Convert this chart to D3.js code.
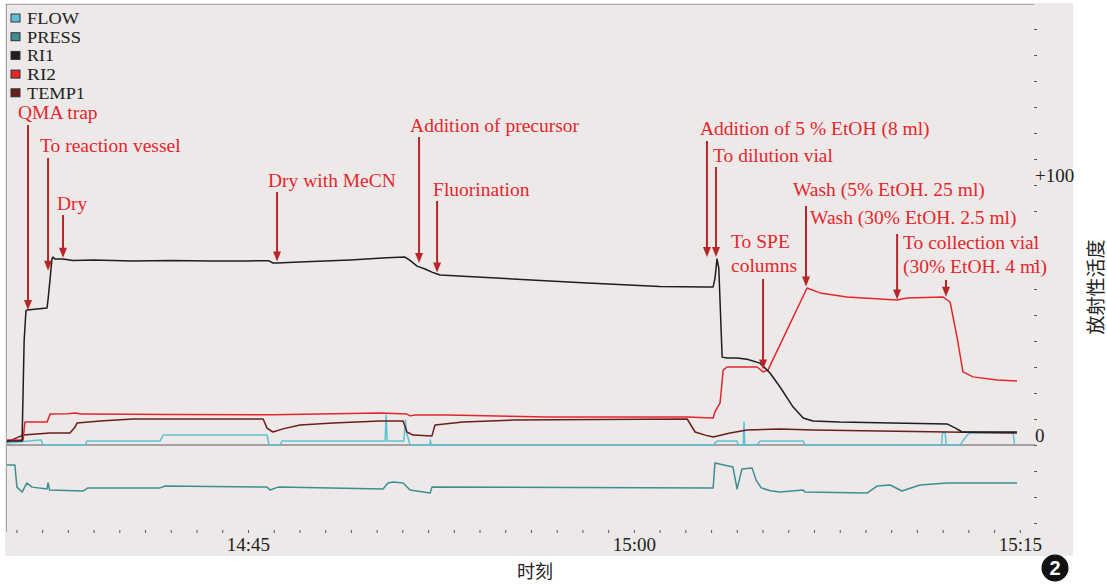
<!DOCTYPE html>
<html>
<head>
<meta charset="utf-8">
<script src="https://cdn.jsdelivr.net/npm/d3@7"></script>
<style>
body { margin: 0; background: #fff; }
text { font-family: 'Liberation Serif', 'Times New Roman', serif; }
.cjk { font-family: 'Noto Sans CJK SC', sans-serif; }
</style>
</head>
<body>
<svg id="chart" width="1107" height="585"></svg>
<script>
'use strict';
//Series data: [minutes after 14:30, value].
const flowData = [[5.63,0.8],[6.92,1.9],[6.96,1.9],[7.03,0],[8.67,0],[8.74,1.5],[11.58,1.5],[11.70,3.8],[15.74,3.8],[15.82,0],[16.25,0],[16.32,1.5],
	[20.33,1.5],[20.37,11.5],[20.41,1.5],[21.06,1.5],[21.12,9.6],[21.16,5],[21.30,0],[22.06,0],[22.09,1.9],[22.12,0],[33.08,0],[33.23,1.5],
	[34.01,1.5],[34.05,0],[34.25,0],[34.28,8.8],[34.31,0],[34.79,0],[34.90,1.5],[36.58,1.5],[36.65,0],[41.96,0],[41.99,4.6],[42.10,4.6],
	[42.14,0],[42.68,0],[42.95,3.8],[43.07,4.6],[44.74,4.6],[44.80,0]];
const pressData = [[5.63,-7.7],[5.94,-7.7],[6.02,-16.2],[6.22,-18.1],[6.41,-14.6],[6.61,-16.2],[7.19,-16.9],[7.23,-14.6],[7.29,-17.3],[8.59,-17.7],
	[8.78,-16.5],[11.58,-16.5],[11.78,-15.8],[15.74,-16.2],[15.86,-17.3],[16.17,-16.2],[20.25,-16.9],[20.44,-14.6],[20.64,-14.2],[21.03,-14.6],
	[21.30,-17.3],[22.08,-18.5],[22.15,-16.2],[33.08,-16.5],[33.15,-6.9],[33.85,-8.5],[34.01,-16.9],[34.20,-9.2],[34.59,-8.8],[34.75,-13.5],
	[34.95,-16.5],[35.3,-17.6],[35.68,-18.1],[36.58,-17.3],[36.65,-18.1],[39.06,-18.5],[39.45,-15.8],[39.96,-15.4],[40.42,-17.7],[41.12,-15.4],
	[42.17,-14.6],[44.89,-14.6]];
const ri1Data = [[5.63,1.5],[6.22,1.5],[6.30,40],[6.37,51.5],[6.41,51.9],[6.8,52.3],[7.19,52.7],[7.23,56],[7.31,64],[7.38,71.5],[7.42,72.3],
	[7.5,71.5],[7.81,71.5],[8.2,71.0],[9.0,71.2],[10.5,70.8],[12,71.0],[13.5,70.8],[15.0,70.8],[15.8,70.9],[15.97,70.0],[16.13,70.0],[17.0,70.4],
	[18.97,71.2],[20.4,72.0],[21.1,72.3],[21.3,71.0],[21.57,68.8],[21.88,67.7],[22.15,66.5],[22.35,65.8],[22.47,65.4],[25,64.0],[28,62.4],
	[31,61.0],[32.77,60.8],[33.08,60.8],[33.15,64],[33.23,71.5],[33.3,68],[33.43,33.8],[33.62,33.5],[34.0,33.5],[34.4,33.0],[34.9,31.5],
	[35.29,27.7],[35.68,22.3],[36.19,14.6],[36.58,10.4],[36.96,9.2],[38,8.8],[40,8.5],[42.17,8.1],[42.5,6.5],[42.76,5.0],[43.5,5.0],[44.89,5.0]];
const ri2Data = [[5.63,1.9],[6.26,1.9],[6.33,8.8],[7.19,8.8],[7.31,11.9],[8.0,12.0],[8.28,12.3],[8.5,11.9],[8.74,11.9],[12,11.7],[16,11.6],
	[20.13,12.3],[21.18,11.9],[21.30,11.2],[21.5,11.5],[22.74,11.5],[26.62,10.8],[32.07,10.8],[33.08,10.4],[33.15,12.7],[33.35,16.2],
	[33.47,28.8],[33.62,30.0],[34.79,30.0],[35.02,28.1],[35.21,28.8],[36.73,60.4],[37.24,58.5],[38.28,56.9],[39.57,56.2],[40.23,55.8],
	[40.62,56.5],[42.02,56.9],[42.29,55.0],[42.56,41.5],[42.79,28.1],[43.18,26.2],[44.12,25.0],[44.89,24.6]];
const temp1Data = [[5.63,1.2],[6.26,3.8],[7.31,4.6],[8.08,4.6],[8.28,6.9],[8.36,8.5],[9.25,9.2],[10.53,10.0],[13.14,10.0],[15.59,10.0],
	[15.74,6.5],[15.97,5.0],[16.36,6.2],[17.02,7.7],[18.31,8.5],[20.13,9.2],[21.03,9.2],[21.18,5.0],[21.42,3.8],[22.15,3.5],[22.27,7.7],
	[23.36,8.8],[25.30,9.6],[32.07,10.0],[32.38,5.0],[32.77,3.8],[33.08,3.1],[33.74,4.6],[34.40,5.8],[35.68,6.2],[36.96,5.8],[42.17,5.0],[44.89,4.6]];
const seriesNames = ['FLOW', 'PRESS', 'RI1', 'RI2', 'TEMP1'];
const seriesColors = ['#5ec2d6', '#3d8e94', '#1e1e1e', '#e2262b', '#6b1c1c'];
//Step annotations: label lines, time of the step (minutes after 14:30), value the arrow points at.
const annLabels = [['QMA trap'], ['To reaction vessel'], ['Dry'], ['Dry with MeCN'], ['Addition of precursor'], ['Fluorination'],
	['Addition of 5 % EtOH (8 ml)'], ['To dilution vial'], ['To SPE', 'columns'], ['Wash (5% EtOH. 25 ml)'],
	['Wash (30% EtOH. 2.5 ml)'], ['To collection vial', '(30% EtOH. 4 ml)']];
const annTimes = [6.45, 7.23, 7.81, 16.13, 21.65, 22.35, 32.84, 33.19, 35.02, 36.69, 40.23, 42.13];
const annValues = [51.9, 67, 72, 70.6, 70, 66.3, 72.3, 72.3, 29, 61, 56, 57];
const timeTicks = ['14:45', '15:00', '15:15'];

//Layout of the annotation text: x shift from the arrow, text baseline, arrow start (pixels).
const annLayout = [[-10,119,125], [-8,152,158], [-6,210,215], [-9,187,192], [-9,132,137], [-4,196,201],
	[-7,135,141], [-3,162,167], [-32,248,279], [-13,196,206], [-87,224,234], [-43,249,280]];
//Legend text widths, to fit the picture's wider type.
const legendWidths = [52, 54, 27, 29, 58];

const svg = d3.select('#chart');
const base = new Date(2020, 0, 1, 14, 30);
const toTime = m => new Date(base.getTime() + m * 60000);

//Panel background.
svg.append('rect')
	.attr('x', 5).attr('y', 3)
	.attr('width', 1068).attr('height', 553)
	.style('fill', '#ece9e8');

const x = d3.scaleTime()
	.domain([toTime(5.634), toTime(45.59)])
	.range([7, 1035]);
const y = d3.scaleLinear()
	.domain([-35, 168])
	.range([536, 8.2]);

//Frame lines at the top and left.
svg.append('line')
	.attr('x1', 7).attr('x2', 1034).attr('y1', 4.5).attr('y2', 4.5)
	.style('stroke', '#a9a6a6').style('stroke-width', 1);
svg.append('line')
	.attr('x1', 6.5).attr('x2', 6.5).attr('y1', 4).attr('y2', 532)
	.style('stroke', '#a9a6a6').style('stroke-width', 1);

//Zero line.
svg.append('line')
	.attr('x1', 7).attr('x2', 1035)
	.attr('y1', y(0)).attr('y2', y(0))
	.style('stroke', '#8c8989').style('stroke-width', 1.4);

//Right axis.
const yAxis = svg.append('g')
	.attr('transform', 'translate(1034,0)')
	.call(d3.axisRight(y)
		.tickValues(d3.range(-30, 170, 10))
		.tickSize(3)
		.tickFormat(d => d === 0 ? '0' : d === 100 ? '+100' : ''));
yAxis.select('.domain').remove();
yAxis.selectAll('line').style('stroke', '#555');
yAxis.selectAll('text')
	.attr('x', 1).attr('dy', '-0.2em')
	.style('font-size', '19px').style('fill', '#222')
	.style('font-family', "'Liberation Serif', serif");

//Bottom axis: a tick each minute, labels at quarter hours.
const fmt = d3.timeFormat('%H:%M');
const xAxis = svg.append('g')
	.attr('transform', 'translate(0,530)')
	.call(d3.axisBottom(x)
		.ticks(d3.timeMinute.every(1))
		.tickSize(3)
		.tickFormat(d => timeTicks.includes(fmt(d)) ? fmt(d) : ''));
xAxis.select('.domain').remove();
xAxis.selectAll('line').style('stroke', '#555');
xAxis.selectAll('text')
	.attr('y', 8).attr('dy', '0.71em')
	.style('font-size', '19px').style('fill', '#222')
	.style('font-family', "'Liberation Serif', serif");

//Traces.
const line = d3.line()
	.x(d => x(toTime(d[0])))
	.y(d => y(d[1]));
const allData = [flowData, pressData, temp1Data, ri2Data, ri1Data];
const drawColors = [seriesColors[0], seriesColors[1], seriesColors[4], seriesColors[3], seriesColors[2]];
allData.forEach((data, i) => {
	svg.append('path')
		.datum(data)
		.attr('d', line)
		.style('fill', 'none')
		.style('stroke', drawColors[i])
		.style('stroke-width', 1.5)
		.style('stroke-linejoin', 'round');
});

//Legend.
const legend = svg.append('g');
seriesNames.forEach((name, i) => {
	const ly = 18 + i * 18.7;
	legend.append('rect')
		.attr('x', 11).attr('y', ly - 4)
		.attr('width', 9).attr('height', 8)
		.style('fill', seriesColors[i])
		.style('stroke', '#333').style('stroke-width', 1);
	legend.append('text')
		.attr('x', 27).attr('y', ly + 6)
		.style('font-size', '16.5px').style('fill', '#222')
		.attr('textLength', legendWidths[i])
		.attr('lengthAdjust', 'spacingAndGlyphs')
		.text(name);
});

//Annotations with arrows.
const ann = svg.append('g');
annLabels.forEach((lines, i) => {
	const ax = x(toTime(annTimes[i]));
	const tip = y(annValues[i]);
	const lay = annLayout[i];
	lines.forEach((t, j) => {
		ann.append('text')
			.attr('x', ax + lay[0])
			.attr('y', lay[1] + j * 24)
			.style('font-size', '19.5px')
			.style('fill', '#e5262d')
			.text(t);
	});
	ann.append('line')
		.attr('x1', ax).attr('x2', ax)
		.attr('y1', lay[2]).attr('y2', tip - 8)
		.style('stroke', '#b8262a').style('stroke-width', 2);
	ann.append('path')
		.attr('d', `M${ax - 4},${tip - 10}L${ax + 4},${tip - 10}L${ax},${tip}Z`)
		.style('fill', '#b8262a');
});

//Axis titles.
svg.append('text')
	.attr('class', 'cjk')
	.attr('x', 535).attr('y', 578)
	.attr('text-anchor', 'middle')
	.style('font-size', '18px').style('fill', '#222')
	.text('时刻');
svg.append('text')
	.attr('class', 'cjk')
	.attr('transform', 'translate(1096,287) rotate(-90)')
	.attr('text-anchor', 'middle')
	.attr('dy', '0.35em')
	.style('font-size', '19px').style('fill', '#222')
	.text('放射性活度');

//Panel number.
svg.append('circle')
	.attr('cx', 1055).attr('cy', 568).attr('r', 13.5)
	.style('fill', '#111');
svg.append('text')
	.attr('x', 1055).attr('y', 575)
	.attr('text-anchor', 'middle')
	.style('font-family', "'Liberation Sans', sans-serif")
	.style('font-weight', 'bold')
	.style('font-size', '20px').style('fill', '#fff')
	.text('2');
</script>
</body>
</html>
